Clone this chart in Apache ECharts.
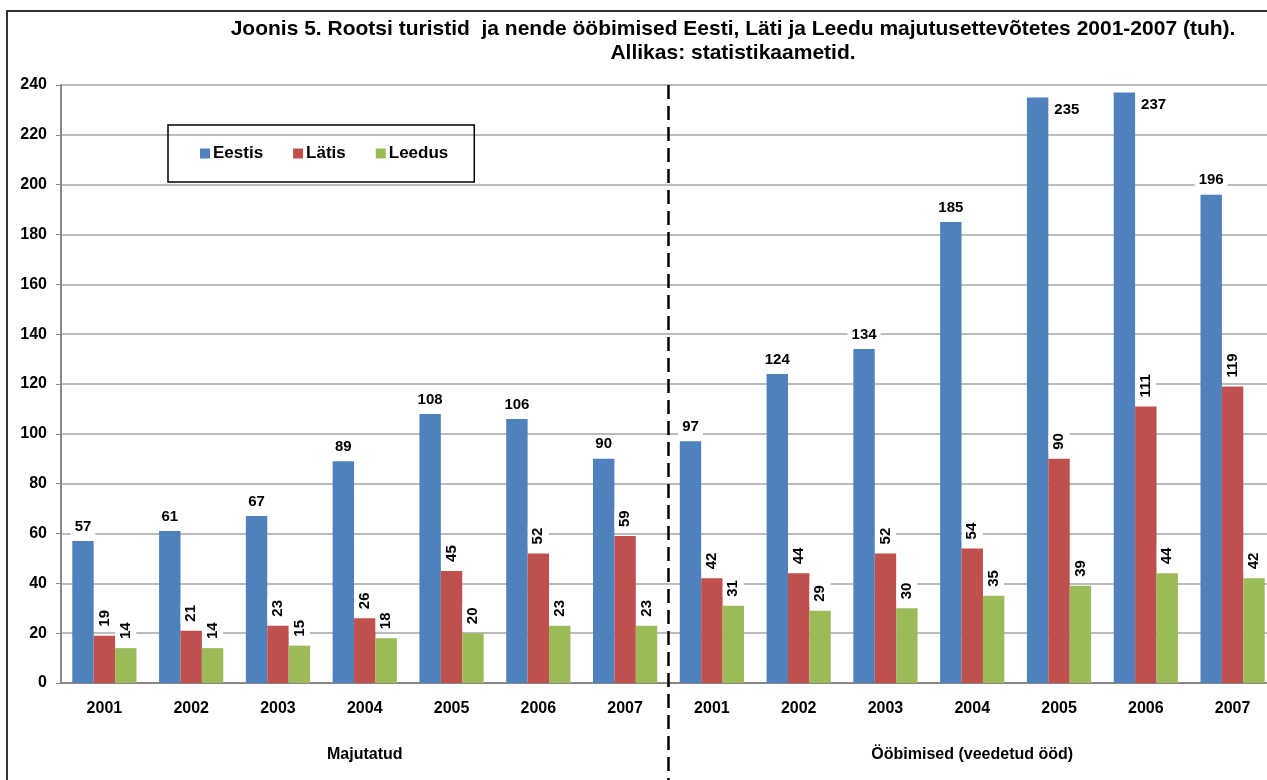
<!DOCTYPE html>
<html>
<head>
<meta charset="utf-8">
<script src="https://cdn.jsdelivr.net/npm/echarts@6/dist/echarts.min.js"></script>
<style>
  html, body { margin: 0; padding: 0; background: #fff; overflow: hidden; }
  /* joonis on paremalt veidi ära lõigatud, seepärast laiem kui aken */
  #chart { width: 1280px; height: 780px; }
</style>
</head>
<body>
<div id="chart"></div>
<script>
// andmed
var years = ['2001', '2002', '2003', '2004', '2005', '2006', '2007',
             '2001', '2002', '2003', '2004', '2005', '2006', '2007']
var groups = ['Majutatud', 'Ööbimised (veedetud ööd)']
var eestis = [57, 61, 67, 89, 108, 106, 90, 97, 124, 134, 185, 235, 237, 196]
var latis = [19, 21, 23, 26, 45, 52, 59, 42, 44, 52, 54, 90, 111, 119]
var leedus = [14, 14, 15, 18, 20, 23, 23, 31, 29, 30, 35, 39, 44, 42]

var font = 'Liberation Sans, Arial, sans-serif'

var chart = echarts.init(document.getElementById('chart'))

// tavaline silt tulba kohal
var topLabel = {
  show: true,
  position: 'top',
  distance: 6,
  color: '#000',
  fontFamily: font,
  fontWeight: 'bold',
  fontSize: 15,
  backgroundColor: '#fff',
  padding: [1, 4]
}
// püstised sildid (Läti, Leedu)
var rotLabel = Object.assign({}, topLabel, {
  rotate: 90,
  align: 'left',
  verticalAlign: 'middle',
  distance: 7,
  padding: [3, 2]
})

// 2005 ja 2006 ööbimiste silt on tulbast paremal
var eestisData = eestis.map(function (v, i) {
  if (v > 230) {
    return {
      value: v,
      label: { position: ['100%', 0], offset: [2, 4], align: 'left', verticalAlign: 'top' }
    }
  }
  return v
})

var option = {
  animation: false,
  title: {
    text: 'Joonis 5. Rootsi turistid  ja nende ööbimised Eesti, Läti ja Leedu majutusettevõtetes 2001-2007 (tuh).\nAllikas: statistikaametid.',
    left: 733,
    top: 17,
    padding: 0,
    textAlign: 'center',
    textStyle: {
      fontFamily: font,
      fontWeight: 'bold',
      fontSize: 21,
      lineHeight: 24,
      color: '#000'
    }
  },
  legend: {
    left: 168,
    top: 125,
    padding: [20, 26, 20, 32],
    itemGap: 30,
    itemWidth: 10,
    itemHeight: 10,
    icon: 'rect',
    borderColor: '#000',
    borderWidth: 1.5,
    textStyle: {
      fontFamily: font,
      fontWeight: 'bold',
      fontSize: 17,
      color: '#000',
      padding: [0, 0, 0, -2]
    },
    data: ['Eestis', 'Lätis', 'Leedus']
  },
  grid: {
    left: 61,
    right: 4,
    top: 85,
    bottom: 97,
    containLabel: false
  },
  xAxis: [
    {
      type: 'category',
      data: years,
      axisLine: { lineStyle: { color: '#888', width: 2 } },
      axisTick: { length: 45, lineStyle: { color: '#aaa', width: 2 } },
      axisLabel: {
        interval: 0,
        margin: 18,
        color: '#000',
        fontFamily: font,
        fontWeight: 'bold',
        fontSize: 16
      }
    },
    {
      type: 'category',
      data: groups,
      position: 'bottom',
      axisLine: { show: false },
      axisTick: { length: 90, lineStyle: { color: '#aaa', width: 2 } },
      axisLabel: {
        margin: 64,
        color: '#000',
        fontFamily: font,
        fontWeight: 'bold',
        fontSize: 16
      }
    }
  ],
  yAxis: {
    type: 'value',
    min: 0,
    max: 240,
    interval: 20,
    axisLine: { show: true, lineStyle: { color: '#888', width: 2 } },
    axisTick: { show: true, length: 5, lineStyle: { color: '#888' } },
    splitLine: { lineStyle: { color: '#a6a6a6', width: 1.5 } },
    axisLabel: {
      margin: 14,
      color: '#000',
      fontFamily: font,
      fontWeight: 'bold',
      fontSize: 16
    }
  },
  series: [
    {
      name: 'Eestis',
      type: 'bar',
      data: eestisData,
      barGap: 0,
      barCategoryGap: '26%',
      itemStyle: { color: '#4F81BD' },
      label: topLabel
    },
    {
      name: 'Lätis',
      type: 'bar',
      data: latis,
      itemStyle: { color: '#C0504D' },
      label: rotLabel
    },
    {
      name: 'Leedus',
      type: 'bar',
      data: leedus,
      itemStyle: { color: '#9BBB59' },
      label: rotLabel
    }
  ]
}

chart.setOption(option)

// katkendjoon kahe rühma vahel + välimine raam
var x6 = chart.convertToPixel({ xAxisIndex: 0 }, 6)
var x7 = chart.convertToPixel({ xAxisIndex: 0 }, 7)
var xMid = (x6 + x7) / 2
var yTop = chart.convertToPixel({ yAxisIndex: 0 }, 240)

chart.setOption({
  graphic: [
    {
      type: 'rect',
      shape: { x: 7, y: 11, width: 1300, height: 800 },
      style: { fill: 'none', stroke: '#333', lineWidth: 2 },
      z: 100
    },
    {
      type: 'line',
      shape: { x1: xMid, y1: yTop, x2: xMid, y2: 780 },
      style: { stroke: '#000', lineWidth: 2.5, lineDash: [14, 7] },
      z: 100
    }
  ]
})
</script>
</body>
</html>
